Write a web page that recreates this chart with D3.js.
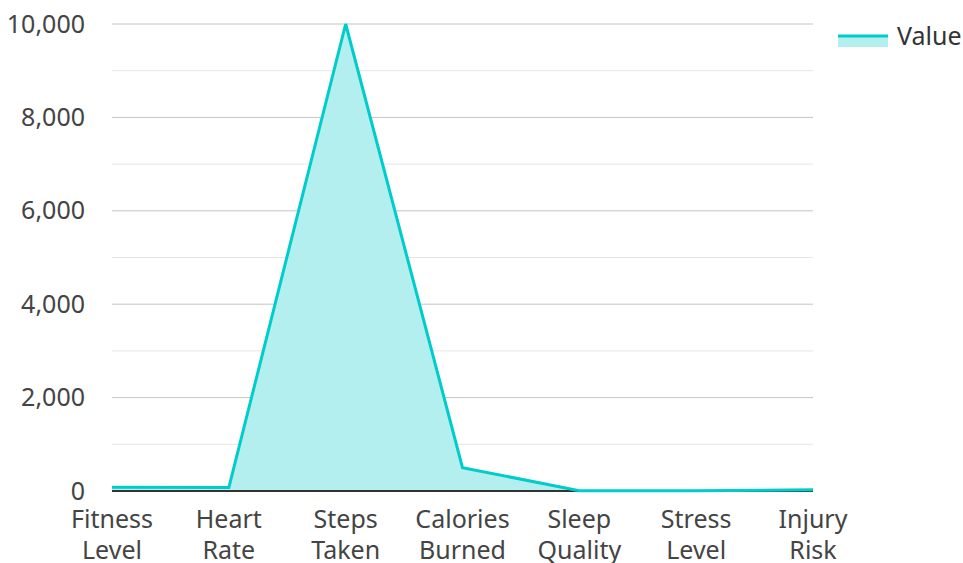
<!DOCTYPE html>
<html><head><meta charset="utf-8">
<script src="https://cdn.jsdelivr.net/npm/d3@7"></script>
<style>body{margin:0;background:#fff;}svg{display:block;font-family:"Noto Sans","Open Sans",sans-serif;}</style>
</head><body><svg id="c" width="963" height="563"></svg>
<script>
const categories = [["Fitness","Level"],["Heart","Rate"],["Steps","Taken"],["Calories","Burned"],["Sleep","Quality"],["Stress","Level"],["Injury","Risk"]];
const values = [80, 75, 10000, 500, 7, 5, 25];
const majorTicks = [0, 2000, 4000, 6000, 8000, 10000];
const minorTicks = [1000, 3000, 5000, 7000, 9000];
const seriesName = "Value";

(function(){
const svg = d3.select("#c");
const mL = 112, mR = 813, mT = 24, mB = 491;
const x = d3.scalePoint().domain(d3.range(categories.length)).range([mL, mR]).padding(0);
const y = d3.scaleLinear().domain([0, 10000]).range([mB, mT]);

svg.append("g").selectAll("line").data(minorTicks).join("line")
  .attr("x1", mL).attr("x2", mR).attr("y1", d => y(d)).attr("y2", d => y(d))
  .attr("stroke", "#e6e6e6").attr("stroke-width", 1);
svg.append("g").selectAll("line").data(majorTicks.filter(d => d > 0)).join("line")
  .attr("x1", mL).attr("x2", mR).attr("y1", d => y(d)).attr("y2", d => y(d))
  .attr("stroke", "#c4c4c4").attr("stroke-width", 1);

const yAxis = svg.append("g").attr("transform", `translate(${mL},0)`)
  .call(d3.axisLeft(y).tickValues(majorTicks).tickSize(0).tickPadding(27).tickFormat(d3.format(",")));
yAxis.select(".domain").remove();
yAxis.selectAll("text").attr("font-size", 25).attr("fill", "#444").attr("font-family", "Noto Sans");

const area = d3.area().x((d, i) => x(i)).y0(y(0)).y1(d => y(d));
const line = d3.line().x((d, i) => x(i)).y(d => y(d));
svg.append("path").datum(values).attr("d", area).attr("fill", "#b2efee");
svg.append("line").attr("x1", mL).attr("x2", mR).attr("y1", y(0)).attr("y2", y(0))
  .attr("stroke", "#333").attr("stroke-width", 2);
svg.append("path").datum(values).attr("d", line).attr("fill", "none")
  .attr("stroke", "#00cccc").attr("stroke-width", 3).attr("stroke-linejoin", "miter");

const xl = svg.append("g");
categories.forEach((c, i) => {
  const t = xl.append("text").attr("x", x(i)).attr("text-anchor", "middle")
    .attr("font-size", 25).attr("fill", "#444");
  c.forEach((s, j) => t.append("tspan").attr("x", x(i)).attr("y", 528 + j * 31).text(s));
});

const lg = svg.append("g");
lg.append("rect").attr("x", 838).attr("y", 37).attr("width", 50).attr("height", 10).attr("fill", "#b2efee");
lg.append("line").attr("x1", 838).attr("x2", 888).attr("y1", 36).attr("y2", 36).attr("stroke", "#00cccc").attr("stroke-width", 3);
lg.append("text").attr("x", 897).attr("y", 45).attr("font-size", 25).attr("fill", "#333").text(seriesName);
})();
</script></body></html>
